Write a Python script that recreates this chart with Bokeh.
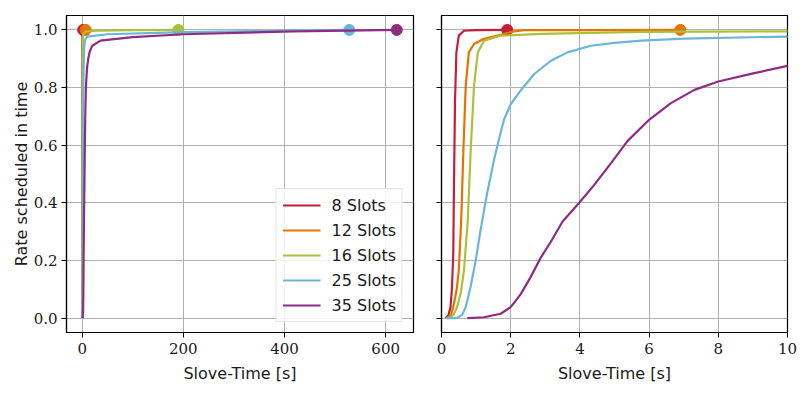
from bokeh.plotting import figure
from bokeh.layouts import row
from bokeh.models import FixedTicker, Range1d, NumeralTickFormatter, CustomJSTickFormatter
from bokeh.embed import file_html
from bokeh.resources import INLINE

labels = ["8 Slots", "12 Slots", "16 Slots", "25 Slots", "35 Slots"]
colors = ["#c41e3a", "#e67300", "#aac23a", "#6ab6d8", "#8e2c84"]

x8 = [0.116, 0.2, 0.26, 0.3, 0.34, 0.36, 0.39, 0.43, 0.5, 0.65, 1.0, 1.9]
y8 = [0.0, 0.01, 0.038, 0.1, 0.22, 0.457, 0.748, 0.922, 0.98, 0.997, 0.999, 1.0]

x12 = [0.16, 0.28, 0.36, 0.44, 0.5, 0.57, 0.63, 0.7, 0.79, 0.94, 1.23, 1.71, 2.05, 2.39, 4.0, 6.9]
y12 = [0.0, 0.012, 0.05, 0.1, 0.166, 0.34, 0.573, 0.806, 0.922, 0.951, 0.969, 0.983, 0.994, 0.999, 0.9995, 1.0]

x16 = [0.21, 0.35, 0.45, 0.56, 0.65, 0.76, 0.84, 0.94, 1.05, 1.23, 1.71, 2.87, 5.77, 10.0, 30.0, 100.0, 190.0]
y16 = [0.0, 0.012, 0.038, 0.09, 0.166, 0.34, 0.573, 0.806, 0.922, 0.963, 0.98, 0.986, 0.993, 0.995, 0.997, 0.999, 1.0]

x25 = [0.12, 0.4, 0.5, 0.6, 0.7, 0.84, 0.99, 1.13, 1.32, 1.52, 1.66, 1.81, 2.0, 2.29, 2.68, 3.16, 3.64, 4.32, 5.0, 5.77, 7.0, 10.0, 50.0, 200.0, 350.0, 528.0]
y25 = [0.0, 0.0, 0.003, 0.012, 0.038, 0.108, 0.201, 0.306, 0.434, 0.55, 0.62, 0.69, 0.742, 0.79, 0.847, 0.893, 0.922, 0.945, 0.955, 0.963, 0.97, 0.977, 0.985, 0.992, 0.996, 1.0]

x35 = [0.744, 1.23, 1.71, 2.0, 2.29, 2.58, 2.87, 3.16, 3.5, 4.0, 4.42, 4.9, 5.38, 6.0, 6.63, 7.31, 8.0, 9.04, 10.0, 12.5, 15.0, 20.0, 36.0, 100.0, 200.0, 418.0, 622.0]
y35 = [0.0, 0.003, 0.015, 0.038, 0.083, 0.143, 0.21, 0.265, 0.335, 0.403, 0.463, 0.538, 0.615, 0.688, 0.746, 0.792, 0.821, 0.85, 0.875, 0.905, 0.925, 0.945, 0.963, 0.975, 0.985, 0.995, 1.0]

xs = [x8, x12, x16, x25, x35]
ys = [y8, y12, y16, y25, y35]

left_ticks = [0, 200, 400, 600]
right_ticks = [0, 2, 4, 6, 8, 10]
y_ticks = [0.0, 0.2, 0.4, 0.6, 0.8, 1.0]

SERIF = "'DejaVu Serif'"
SANS = "'DejaVu Sans'"

def style(p, xticks, show_ylabels):
    p.xaxis.ticker = FixedTicker(ticks=xticks)
    p.yaxis.ticker = FixedTicker(ticks=y_ticks)
    p.yaxis.formatter = NumeralTickFormatter(format="0.0")
    p.xgrid.ticker = FixedTicker(ticks=xticks)
    p.ygrid.ticker = FixedTicker(ticks=y_ticks)
    p.grid.grid_line_color = "#b0b0b0"
    p.grid.grid_line_width = 1
    p.outline_line_color = "black"
    p.outline_line_width = 1.2
    for ax in (p.xaxis, p.yaxis):
        ax.axis_line_color = "black"
        ax.axis_line_width = 1.2
        ax.major_tick_out = 5
        ax.major_tick_in = 0
        ax.major_tick_line_color = "black"
        ax.minor_tick_line_color = None
        ax.major_label_text_font = SERIF
        ax.major_label_text_font_size = "15px"
        ax.major_label_text_color = "#1a1a1a"
        ax.axis_label_text_font = SANS
        ax.axis_label_text_font_size = "16px"
        ax.axis_label_text_font_style = "normal"
        ax.axis_label_text_color = "#1a1a1a"
    p.xaxis.axis_label = "Slove-Time [s]"
    p.xaxis.axis_label_standoff = 7
    p.xaxis.major_label_standoff = 5
    if show_ylabels:
        p.yaxis.axis_label = "Rate scheduled in time"
        p.yaxis.axis_label_standoff = 0
        p.yaxis.major_label_standoff = 4
    else:
        p.yaxis.formatter = CustomJSTickFormatter(code="return ''")
        p.yaxis.major_label_standoff = 0

p1 = figure(frame_width=347, frame_height=317, output_backend="svg", toolbar_location=None,
            x_range=Range1d(-31, 655), y_range=Range1d(-0.05, 1.05),
            min_border_left=66, min_border_right=14, min_border_top=15, min_border_bottom=58)
p2 = figure(frame_width=346, frame_height=317, output_backend="svg", toolbar_location=None,
            x_range=Range1d(0, 10), y_range=p1.y_range,
            min_border_left=14, min_border_right=12, min_border_top=15, min_border_bottom=58)

style(p1, left_ticks, True)
style(p2, right_ticks, False)

for x, y, c, lab in zip(xs, ys, colors, labels):
    p1.line(x, y, line_color=c, line_width=2.2, legend_label=lab)
    p1.scatter([x[-1]], [y[-1]], size=11, fill_color=c, line_color=c)
    p2.line(x, y, line_color=c, line_width=2.2)
    p2.scatter([x[-1]], [y[-1]], size=11, fill_color=c, line_color=c)

lg = p1.legend[0]
lg.location = "bottom_right"
lg.margin = 10
lg.padding = 6
lg.spacing = 5
lg.glyph_width = 38
lg.glyph_height = 20
lg.label_height = 20
lg.label_standoff = 11
lg.label_text_font = SANS
lg.label_text_font_size = "16px"
lg.label_text_color = "#1a1a1a"
lg.border_line_color = "#cccccc"
lg.border_line_width = 1
lg.background_fill_alpha = 0.85

layout = row(p1, p2)
open("out.html", "w").write(file_html(layout, INLINE))
